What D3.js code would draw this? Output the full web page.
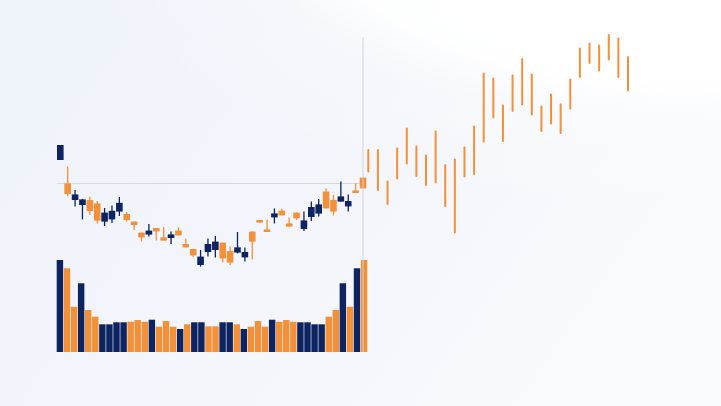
<!DOCTYPE html>
<html>
<head>
<meta charset="utf-8">
<script src="https://cdn.jsdelivr.net/npm/d3@7"></script>
<style>
html,body{margin:0;padding:0;background:#f1f4fb;overflow:hidden;}
svg{display:block;}
</style>
</head>
<body>
<svg id="chart" width="721" height="406"></svg>
<script>
// ---- data ----
// candles: open, high, low, close (price units)
const candleOpen  = [103.5,79,78.8,76.3,70.5,65.7,69.7,70.6,74.6,66,63.5,57.3,60.7,60.3,55.7,58.8,58.3,52.3,48.3,47.7,54,55.2,46.8,44.7,52.3,50,55.2,64.7,60,69.3,68.3,62.7,66.8,65.8,72.5,73.8,71.8,70.2,77.8,75.5,79.5,81.8];
const candleHigh  = [103.5,92.7,81,76.5,77.7,75.5,72,73.3,77.5,70,65.2,59.7,64,62,62.5,60.2,62.3,56.7,51.5,51,56.8,58,54.7,52.7,60,52.3,60.2,66,66.3,71.8,71.8,67.3,69.7,70.2,75.2,76.5,81.8,78.5,85.2,78.8,84.3,87.2];
const candleLow   = [96,77.7,72.7,66.3,68.5,64.3,63,64.5,68,65.2,61,55.2,57.7,55.7,55.7,54,58.3,52.3,47.5,42.7,47.7,47.3,44.7,43.5,49.3,45.2,46.3,64.7,60,64.3,68.3,62.7,66,60.5,65.5,67.7,71.8,68.2,75.2,70.2,79.5,81.8];
const candleClose = [96,84.3,76,73.5,76,74.3,65.2,66.3,70.2,69,65.2,59.7,58.7,62,57.3,57,60.7,54,51.5,43.5,50,51,54.7,50.5,49.7,47.3,60.2,66,61.3,67.3,70.7,64.3,69.7,61.5,67.5,69.2,80.2,76,75.2,72.8,80.8,87.2];
// volume bars
const volumeValues = [100,91,49.2,74.7,45.7,38.4,30.1,30.1,32.3,32.3,32.9,34.8,32.9,35.1,27.5,33.7,27.5,25,30.1,32.3,32.3,27.9,
                      27.9,32.3,32.3,30.1,25,27.5,33.7,27.5,35.1,32.9,34.8,32.9,32.3,32.3,30.1,30.1,38.4,45.7,74.7,49.2,91,100];
const volumeUp = [0,1,1,0,1,1,0,0,0,0,1,1,1,0,1,1,1,0,1,0,0,1,1,0,0,1,0,1,1,1,0,1,1,1,0,0,0,0,1,1,0,1,0,1];
// forecast ranges
const forecastHigh = [101,101,85.2,101.8,111.8,102.7,98.2,110.2,93.5,96.3,102.3,112.7,139.3,136.8,123.2,138.2,146.5,138.8,122.8,128.8,123.8,136.2,151.8,154.2,153.2,158.5,156.8,147.5];
const forecastLow  = [90.2,81,74,86.8,94.3,88,83.5,84.7,73,59.7,87.7,89,105.2,117.2,105.5,120.5,123.8,118.8,110.5,114.2,109.5,121.8,137.5,144.5,140.8,146.2,137.5,130.8];
const referencePrice = 84.25;

// ---- styles ----
const NAVY = "#0d2461", ORANGE = "#f3913a", GRID = "#d6d9de";

const svg = d3.select("#chart");
const W = 721, H = 406;

// background
const defs = svg.append("defs");
const lg = defs.append("linearGradient").attr("id","bgBase")
  .attr("x1", 0).attr("y1", 0.3).attr("x2", 1).attr("y2", 0.7);
lg.append("stop").attr("offset", 0).attr("stop-color", "#eff3fa");
lg.append("stop").attr("offset", 0.5).attr("stop-color", "#f4f6fc");
lg.append("stop").attr("offset", 1).attr("stop-color", "#fafbfe");
const rg = defs.append("radialGradient").attr("id","bgGlow")
  .attr("cx", 0.95).attr("cy", -0.35).attr("r", 0.9);
rg.append("stop").attr("offset", 0).attr("stop-color", "#ffffff").attr("stop-opacity", 1);
rg.append("stop").attr("offset", 0.62).attr("stop-color", "#ffffff").attr("stop-opacity", 0.95);
rg.append("stop").attr("offset", 0.72).attr("stop-color", "#ffffff").attr("stop-opacity", 0.3);
rg.append("stop").attr("offset", 1).attr("stop-color", "#ffffff").attr("stop-opacity", 0);
svg.append("rect").attr("width", W).attr("height", H).attr("fill", "url(#bgBase)");
svg.append("rect").attr("width", W).attr("height", H).attr("fill", "url(#bgGlow)");

// scales
const y = d3.scaleLinear().domain([0, 160]).range([352, 32]);
const yVol = d3.scaleLinear().domain([0, 100]).range([352, 260]);
const xCandle = d3.scalePoint().domain(d3.range(candleOpen.length)).range([60.3, 363]);
const xVol = d3.scaleBand().domain(d3.range(volumeValues.length)).range([56.7, 367.3]).paddingInner(0.09);
const xFc = d3.scalePoint().domain(d3.range(forecastHigh.length)).range([368.3, 628]);

const lastX = xCandle(candleOpen.length - 1);

// reference horizontal line
svg.append("line")
  .attr("x1", xVol(0)).attr("x2", lastX)
  .attr("y1", y(referencePrice)).attr("y2", y(referencePrice))
  .attr("stroke", GRID).attr("stroke-width", 1.2);

// volume bars
svg.append("g").selectAll("rect").data(volumeValues).join("rect")
  .attr("x", (d,i) => xVol(i))
  .attr("width", xVol.bandwidth())
  .attr("y", d => yVol(d))
  .attr("height", d => yVol(0) - yVol(d))
  .attr("fill", (d,i) => volumeUp[i] ? ORANGE : NAVY);

// candles
const candles = candleOpen.map((o,i) => ({o, h:candleHigh[i], l:candleLow[i], c:candleClose[i], i}));
const cw = 6.6;
const cg = svg.append("g");
cg.selectAll("line").data(candles).join("line")
  .attr("x1", d => xCandle(d.i)).attr("x2", d => xCandle(d.i))
  .attr("y1", d => y(d.h)).attr("y2", d => y(d.l))
  .attr("stroke", d => d.c >= d.o ? ORANGE : NAVY).attr("stroke-width", 1.3);
cg.selectAll("rect").data(candles).join("rect")
  .attr("x", d => xCandle(d.i) - cw/2).attr("width", cw)
  .attr("y", d => y(Math.max(d.o, d.c)))
  .attr("height", d => Math.max(1.5, Math.abs(y(d.o) - y(d.c))))
  .attr("fill", d => d.c >= d.o ? ORANGE : NAVY);

// forecast range bars
svg.append("g").selectAll("line").data(forecastHigh).join("line")
  .attr("x1", (d,i) => xFc(i)).attr("x2", (d,i) => xFc(i))
  .attr("y1", d => y(d)).attr("y2", (d,i) => y(forecastLow[i]))
  .attr("stroke", ORANGE).attr("stroke-width", 2).attr("stroke-linecap", "round");

// vertical "now" line
svg.append("line")
  .attr("x1", lastX).attr("x2", lastX)
  .attr("y1", 37).attr("y2", 352)
  .attr("stroke", "#cfd3da").attr("stroke-width", 1.2).attr("opacity", 0.8);
</script>
</body>
</html>
